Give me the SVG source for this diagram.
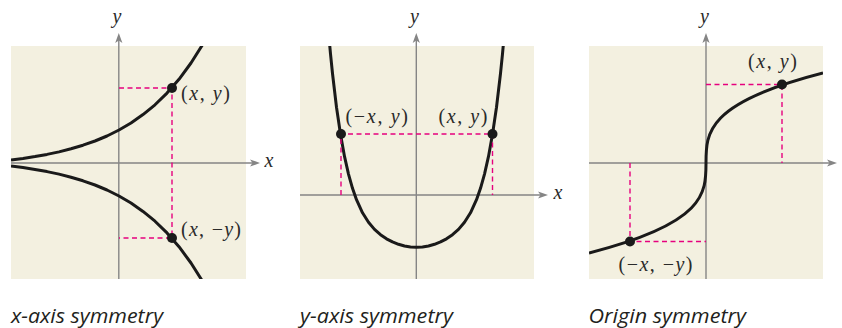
<svg xmlns="http://www.w3.org/2000/svg" width="842" height="328" viewBox="0 0 842 328">
<style>
.bg{fill:#f3f0e0}
.ax{stroke:#858585;stroke-width:1.4;fill:none}
.cv{stroke:#1a1a1a;stroke-width:3;fill:none;stroke-linejoin:round}
.ds{stroke:#e6007e;stroke-width:1.4;stroke-dasharray:5 3.5;fill:none}
.pt{fill:#1a1a1a}
.lb{font-family:"Liberation Serif","Times New Roman",serif;font-size:20px;fill:#2a2a2a}
.it{font-style:italic}
.cap{font-family:"Open Sans","Liberation Sans",sans-serif;font-style:italic;font-size:20px;fill:#231f20}
</style>
<defs>
<marker id="ah" viewBox="-11 -4 12 8" refX="-3" refY="0" markerWidth="12" markerHeight="8" orient="auto" markerUnits="userSpaceOnUse">
<path d="M0,0 L-10,-3.6 L-7.5,0 L-10,3.6 Z" fill="#858585"/>
</marker>
<clipPath id="c1"><rect x="11" y="46" width="235" height="233"/></clipPath>
<clipPath id="c2"><rect x="300" y="46" width="234" height="233"/></clipPath>
<clipPath id="c3"><rect x="589" y="46" width="234" height="233"/></clipPath>
</defs>

<g id="panel-x-axis">
<rect class="bg" x="11" y="46" width="235" height="233"/>
<g id="axes1">
<line class="ax" x1="11" y1="163" x2="257" y2="163" marker-end="url(#ah)"/>
<line class="ax" x1="118.8" y1="279" x2="118.8" y2="36" marker-end="url(#ah)"/>
</g>
<g clip-path="url(#c1)">
<polyline class="cv" points="11,160 23,158.5 35,156.6 47,154.4 59,151.9 71,148.8 83,145.2 95,141 107,136 119,130 131,123 143,114.6 155,104.8 167,93.1 179,79.3 191,63 203,44 207,36.5"/>
<polyline class="cv" points="11,166 23,167.5 35,169.4 47,171.6 59,174.1 71,177.2 83,180.8 95,185 107,190 119,196 131,203 143,211.4 155,221.2 167,232.9 179,246.7 191,263 203,282 207,289.5"/>
</g>
<path class="ds" d="M119,88 H172 V238 H119"/>
<circle class="pt" cx="172" cy="88" r="5"/>
<circle class="pt" cx="172" cy="238" r="5"/>
<text class="lb" x="181" y="100" textLength="49" lengthAdjust="spacing">(<tspan class="it">x</tspan>, <tspan class="it">y</tspan>)</text>
<text class="lb" x="181" y="236" textLength="60" lengthAdjust="spacing">(<tspan class="it">x</tspan>, −<tspan class="it">y</tspan>)</text>
<text class="lb it" x="117" y="23" text-anchor="middle">y</text>
<text class="lb it" x="264.5" y="167">x</text>
<text class="cap" x="11" y="322.5" textLength="152" lengthAdjust="spacingAndGlyphs">x-axis symmetry</text>
</g>

<g id="panel-y-axis">
<rect class="bg" x="300" y="46" width="234" height="233"/>
<g id="axes2">
<line class="ax" x1="300" y1="195" x2="545" y2="195" marker-end="url(#ah)"/>
<line class="ax" x1="416.3" y1="279" x2="416.3" y2="36" marker-end="url(#ah)"/>
</g>
<g clip-path="url(#c2)">
<polyline class="cv" points="328.5,32.1 330.5,53.8 332.5,73.5 336.5,107.2 340.5,134.3 344.5,156.4 348.5,174.1 352.5,188.3 356.5,199.7 362.5,212.8 368.5,222.3 374.5,229.4 380.5,234.7 386.5,238.8 392.5,241.9 398.5,244.3 404.5,246 410.5,247 416.5,247.3 422.5,247 428.5,246 434.5,244.3 440.5,241.9 446.5,238.8 452.5,234.7 458.5,229.4 464.5,222.3 470.5,212.8 476.5,199.7 480.5,188.3 484.5,174.1 488.5,156.4 492.5,134.3 496.5,107.2 500.5,73.5 502.5,53.8 504.5,32.1"/>
</g>
<path class="ds" d="M341,195 V134 H492.5 V195"/>
<circle class="pt" cx="341" cy="134" r="5"/>
<circle class="pt" cx="492.5" cy="134" r="5"/>
<text class="lb" x="345.5" y="123" textLength="62.5" lengthAdjust="spacing">(−<tspan class="it">x</tspan>, <tspan class="it">y</tspan>)</text>
<text class="lb" x="438.5" y="123" textLength="49" lengthAdjust="spacing">(<tspan class="it">x</tspan>, <tspan class="it">y</tspan>)</text>
<text class="lb it" x="414.5" y="23" text-anchor="middle">y</text>
<text class="lb it" x="553.5" y="199">x</text>
<text class="cap" x="300" y="322.5" textLength="153" lengthAdjust="spacingAndGlyphs">y-axis symmetry</text>
</g>

<g id="panel-origin">
<rect class="bg" x="589" y="46" width="234" height="233"/>
<g id="axes3">
<line class="ax" x1="589" y1="163" x2="834" y2="163" marker-end="url(#ah)"/>
<line class="ax" x1="706" y1="279" x2="706" y2="36" marker-end="url(#ah)"/>
</g>
<g clip-path="url(#c3)">
<path class="cv" d="M589,253 C823,193 589,133 823,73"/>
</g>
<path class="ds" d="M706,84.5 H782 V163"/>
<path class="ds" d="M630,163 V241.5 H706"/>
<circle class="pt" cx="782" cy="84.5" r="5"/>
<circle class="pt" cx="630" cy="241.5" r="5"/>
<text class="lb" x="748" y="67.5" textLength="49" lengthAdjust="spacing">(<tspan class="it">x</tspan>, <tspan class="it">y</tspan>)</text>
<text class="lb" x="618.5" y="271" textLength="74" lengthAdjust="spacing">(−<tspan class="it">x</tspan>, −<tspan class="it">y</tspan>)</text>
<text class="lb it" x="704.5" y="23" text-anchor="middle">y</text>
<text class="cap" x="588.5" y="322.5" textLength="157.5" lengthAdjust="spacingAndGlyphs">Origin symmetry</text>
</g>
</svg>
